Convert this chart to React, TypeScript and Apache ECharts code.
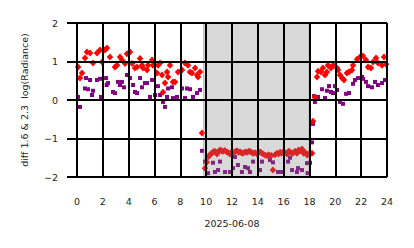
import React, { useEffect, useRef } from "react";
import * as echarts from "echarts";

// hours (2025-06-08) and values: diff 1.6 µm
const redHours = [
  0.08, 0.23, 0.39, 0.62, 0.77, 1.01, 1.24, 1.55, 1.78, 1.94, 2.17, 2.32, 2.55, 2.94, 3.1, 3.33, 3.48, 3.72, 3.87, 4.1,
  4.26, 4.49, 4.65, 4.88, 5.03, 5.11, 5.42, 5.5, 5.81, 5.88, 6.19, 6.27, 6.43, 6.58, 6.66, 6.81, 6.97, 7.05, 7.2, 7.43,
  7.59, 7.82, 8.13, 8.36, 8.59, 8.75, 8.9, 9.14, 9.29, 9.37, 9.52, 9.68,
  9.91, 10.05, 10.14, 10.22, 10.3, 10.42, 10.53, 10.65, 10.76, 10.84, 10.95, 11.07, 11.18, 11.3, 11.45, 11.61, 11.72, 11.84,
  11.96, 12.08, 12.24, 12.39, 12.5, 12.62, 12.74, 12.85, 13.0, 13.16, 13.28, 13.39, 13.5, 13.63, 13.78, 13.94, 14.05, 14.17,
  14.28, 14.4, 14.55, 14.7, 14.82, 14.94, 15.05, 15.17, 15.33, 15.48, 15.6, 15.72, 15.84, 15.95, 16.1, 16.26, 16.38, 16.49,
  16.6, 16.72, 16.88, 17.03, 17.15, 17.28, 17.42, 17.54, 17.65, 17.81, 17.93,
  18.19, 18.27, 18.42, 18.58, 18.66, 18.89, 19.04, 19.2, 19.35, 19.43, 19.66, 19.82, 20.13, 20.21, 20.36, 20.52, 20.67, 20.9,
  21.06, 21.29, 21.37, 21.68, 21.91, 22.14, 22.37, 22.53, 22.76, 22.92, 23.15, 23.3, 23.61, 23.77, 23.92
];
const redValues = [
  0.86, 0.57, 0.7, 1.09, 1.25, 1.22, 0.96, 1.22, 1.3, 0.99, 1.3, 1.35, 1.12, 0.86, 0.9, 1.12, 1.04, 0.95, 1.2, 1.25,
  0.95, 0.83, 0.86, 1.08, 0.9, 0.83, 0.78, 0.9, 1.04, 0.9, 0.7, 0.9, 0.96, 0.65, 0.2, 0.44, 0.73, 0.6, 0.9, 0.47,
  0.47, 0.73, 0.78, 0.96, 0.9, 0.73, 0.7, 0.83, 0.65, 0.6, 0.73, -0.86,
  -1.77, -1.62, -1.48, -1.45, -1.43, -1.38, -1.35, -1.33, -1.36, -1.4, -1.34, -1.3, -1.32, -1.33, -1.31, -1.35, -1.37, -1.4,
  -1.36, -1.38, -1.34, -1.32, -1.36, -1.35, -1.37, -1.38, -1.35, -1.36, -1.33, -1.34, -1.36, -1.38, -1.37, -1.4, -1.36, -1.35,
  -1.37, -1.4, -1.43, -1.45, -1.42, -1.45, -1.44, -1.82, -1.42, -1.38, -1.4, -1.36, -1.38, -1.35, -1.37, -1.4, -1.33, -1.35,
  -1.37, -1.38, -1.33, -1.38, -1.3, -1.32, -1.27, -1.38, -1.36, -1.43, -1.4,
  -1.38, -0.55, 0.08, 0.6, 0.75, 0.73, 0.83, 0.65, 0.73, 0.9, 0.83, 0.9, 0.83, 0.78, 0.65, 0.57, 0.52, 0.7,
  0.73, 0.78, 0.9, 1.06, 1.12, 1.14, 1.04, 0.86, 0.83, 0.99, 1.09, 0.96, 0.9, 1.12, 0.93
];

// diff 2.3 µm
const purpleHours = [
  0.08, 0.23, 0.62, 0.7, 0.85, 1.01, 1.16, 1.24, 1.55, 1.78, 1.86, 2.25, 2.3, 2.4, 2.79, 2.94, 3.17, 3.33, 3.48, 3.64,
  3.87, 4.1, 4.34, 4.49, 4.65, 4.88, 5.03, 5.26, 5.42, 5.65, 5.81, 6.04, 6.27, 6.43, 6.66, 6.81, 6.97, 7.05, 7.35, 7.43,
  7.74, 8.13, 8.36, 8.52, 8.75, 8.98, 9.29, 9.52, 9.68,
  9.91, 10.14, 10.53, 10.68, 10.92, 11.07, 11.46, 11.84, 12.08, 12.23, 12.46, 12.77, 13.01, 13.24, 13.39, 13.63, 14.17, 14.32,
  14.94, 15.17, 15.56, 15.87, 16.34, 16.49, 16.65, 17.03, 17.11, 17.42, 17.81, 17.85, 18.04, 18.19,
  18.27, 18.35, 18.42, 18.66, 18.97, 19.2, 19.35, 19.51, 19.66, 19.82, 19.97, 20.13, 20.36, 20.59, 20.83, 21.06, 21.37, 21.52,
  21.75, 22.06, 22.14, 22.37, 22.53, 22.84, 23.07, 23.3, 23.61, 23.84
];
const purpleValues = [
  0.08, -0.18, 0.3, 0.57, 0.28, 0.52, 0.13, 0.24, 0.52, 0.55, 0.08, 0.57, 0.39, 0.44, 0.21, 0.18, 0.47, 0.39, 0.47, 0.33,
  0.65, 0.57, 0.39, 0.21, 0.18, 0.57, 0.33, 0.44, 0.44, 0.08, 0.52, 0.13, 0.36, 0.13, -0.05, -0.18, 0.08, 0.3, 0.33, 0.05,
  0.08, 0.3, 0.05, 0.3, 0.28, 0.08, 0.18, 0.26, -1.32,
  -1.6, -1.9, -1.63, -1.87, -1.82, -1.6, -1.87, -1.87, -1.77, -1.48, -1.69, -1.87, -1.74, -1.77, -1.87, -1.6, -1.82, -1.6,
  -1.56, -1.62, -1.87, -1.87, -1.6, -1.5, -1.82, -1.87, -1.77, -1.82, -1.64, -1.9, -1.63, -1.1,
  -0.62, 0.1, -0.05, 0.08, 0.28, 0.05, 0.24, 0.36, 0.21, 0.18, 0.36, 0.26, -0.05, -0.1, 0.16, 0.18, 0.42, 0.52,
  0.57, 0.6, 0.55, 0.47, 0.36, 0.33, 0.47, 0.39, 0.44, 0.52
];

const shadeStart = 9.8;
const shadeEnd = 17.97;
const xTicks = { min: 0, max: 24, interval: 2 };
const yTicks = { min: -2, max: 2, interval: 1 };
const xName = "2025-06-08";
const yName = "diff 1.6 & 2.3  log(Radiance)";

const FONT = "DejaVu Sans";

export default function App() {
  const ref = useRef<HTMLDivElement>(null);
  useEffect(() => {
    if (!ref.current) return;
    const chart = echarts.init(ref.current, null, { renderer: "svg" });
    const red = redHours.map((h, i) => [h, redValues[i]]);
    const purple = purpleHours.map((h, i) => [h, purpleValues[i]]);
    const axisCommon = {
      z: 10,
      axisLine: { show: false },
      axisTick: { show: true, inside: false, length: 10, lineStyle: { color: "#000", width: 2 } },
      splitLine: { show: true, lineStyle: { color: "#000", width: 2 } },
      nameTextStyle: { fontFamily: FONT, fontSize: 9.5, color: "#222" },
    };
    chart.setOption({
      animation: false,
      grid: { left: 77, right: 27, top: 23, bottom: 71 },
      xAxis: {
        type: "value",
        ...xTicks,
        ...axisCommon,
        name: xName,
        nameLocation: "middle",
        nameGap: 41,
        axisLabel: { fontFamily: FONT, fontSize: 9.5, color: "#222", margin: 19 },
      },
      yAxis: {
        type: "value",
        ...yTicks,
        ...axisCommon,
        name: yName,
        nameLocation: "middle",
        nameGap: 48,
        axisLabel: {
          fontFamily: FONT,
          fontSize: 9.5,
          color: "#222",
          margin: 19,
          formatter: (v: number) => (v < 0 ? "\u2212" + Math.abs(v) : String(v)),
        },
      },
      series: [
        {
          type: "scatter",
          z: 2,
          data: purple,
          symbol: "rect",
          symbolSize: 4,
          itemStyle: { color: "#800080", opacity: 1 },
        },
        {
          type: "scatter",
          z: 3,
          data: red,
          symbol: "diamond",
          symbolSize: [6.5, 7],
          itemStyle: { color: "#ff0000", opacity: 1 },
        },
        {
          type: "scatter",
          z: 5,
          data: [],
          markArea: {
            z: 5,
            silent: true,
            itemStyle: { color: "rgba(128,128,128,0.3)", borderColor: "rgba(128,128,128,0.45)", borderWidth: 1 },
            data: [[{ xAxis: shadeStart, yAxis: yTicks.min }, { xAxis: shadeEnd, yAxis: yTicks.max }]],
          },
        },
      ],
    });
    return () => chart.dispose();
  }, []);
  return <div ref={ref} style={{ width: 414, height: 248, margin: -8 }} />;
}
